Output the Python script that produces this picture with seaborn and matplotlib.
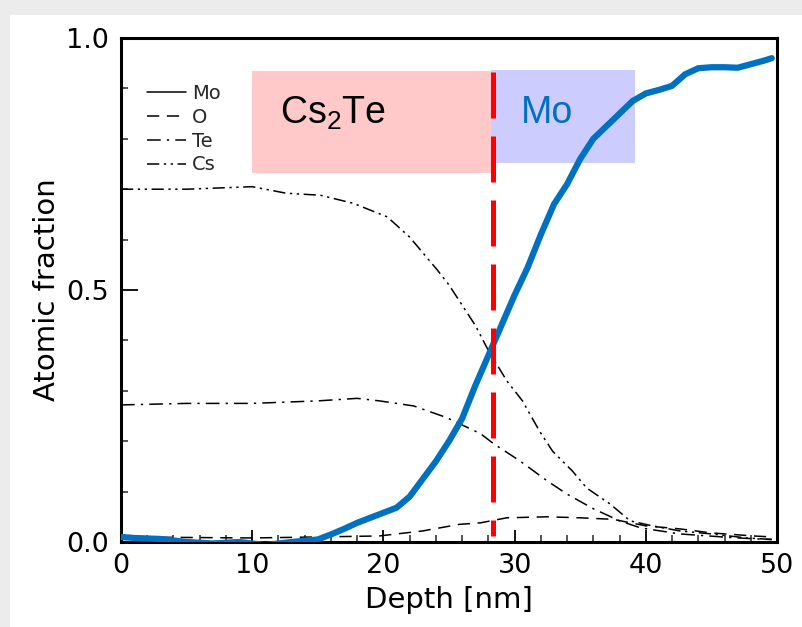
import matplotlib
matplotlib.use("Agg")
import matplotlib.pyplot as plt
from matplotlib import font_manager
from matplotlib.lines import Line2D
from matplotlib.patches import Rectangle
from matplotlib.ticker import MultipleLocator, FixedLocator
import numpy as np
import pandas as pd
import seaborn as sns

# ---- depth profile data (depth in nm, atomic fraction) ----
mo_depth = [0, 1, 3, 5, 7, 9, 11, 13, 15, 16, 17, 18, 19, 20, 21, 22, 23, 24, 25,
            26, 27, 28, 29, 30, 31, 32, 33, 34, 35, 36, 37, 38, 39, 40, 41, 42,
            43, 44, 45, 46, 47, 48, 49, 49.6]
mo_frac = [0.010, 0.008, 0.006, 0.000, -0.003, 0.000, -0.006, 0.000, 0.005, 0.015,
           0.026, 0.038, 0.048, 0.058, 0.068, 0.090, 0.125, 0.160, 0.200, 0.245,
           0.310, 0.370, 0.430, 0.490, 0.545, 0.610, 0.670, 0.710, 0.760, 0.800,
           0.825, 0.850, 0.875, 0.890, 0.897, 0.905, 0.928, 0.940, 0.942, 0.942,
           0.941, 0.948, 0.955, 0.960]

o_depth = [0, 5, 10, 15, 19.7, 23, 25.8, 27.4, 29.4, 32.5, 35, 37.5, 40, 42.6, 45, 48.2, 49.6]
o_frac = [0.010, 0.009, 0.008, 0.010, 0.012, 0.022, 0.035, 0.038, 0.048, 0.050,
          0.048, 0.045, 0.032, 0.026, 0.018, 0.012, 0.010]

te_depth = [0, 5, 10, 15, 18, 19.7, 22.3, 24.8, 27.4, 28.4, 30.4, 32.5, 34, 36,
            38, 39.6, 42.6, 46.4, 48.5, 49.6]
te_frac = [0.272, 0.275, 0.275, 0.280, 0.285, 0.280, 0.270, 0.247, 0.215, 0.195,
           0.161, 0.121, 0.095, 0.066, 0.042, 0.028, 0.016, 0.009, 0.006, 0.005]

cs_depth = [0, 5, 10, 12.6, 15.2, 17.7, 20.3, 22, 24.1, 25, 26, 27, 28, 29.4, 30.6,
            31.9, 32.9, 34.4, 35.5, 37.3, 38.8, 40.5, 42.6, 45, 47.7, 49.6]
cs_frac = [0.700, 0.700, 0.705, 0.692, 0.688, 0.672, 0.645, 0.605, 0.540, 0.510,
           0.470, 0.430, 0.380, 0.320, 0.280, 0.220, 0.180, 0.141, 0.107, 0.075,
           0.042, 0.032, 0.022, 0.016, 0.008, 0.005]

elements = ["Mo", "O", "Te", "Cs"]
x_ticks = [0, 10, 20, 30, 40, 50]
y_ticks = [0.0, 0.5, 1.0]
x_tick_labels = ["0", "10", "20", "30", "40", "50"]
y_tick_labels = ["0.0", "0.5", "1.0"]

interface_depth = 28.35
cs2te_span = (10.0, 28.2, 0.732, 0.934)
mo_span = (28.2, 39.2, 0.751, 0.936)

profile = pd.concat([
    pd.DataFrame({"depth": mo_depth, "frac": mo_frac, "element": "Mo"}),
    pd.DataFrame({"depth": o_depth, "frac": o_frac, "element": "O"}),
    pd.DataFrame({"depth": te_depth, "frac": te_frac, "element": "Te"}),
    pd.DataFrame({"depth": cs_depth, "frac": cs_frac, "element": "Cs"}),
], ignore_index=True)

sns.set_theme(style="white")
plt.rcParams["font.family"] = ["DejaVu Sans"]

available = {f.name for f in font_manager.fontManager.ttflist}
if "Liberation Sans Narrow" in available:
    tick_font = dict(family="Liberation Sans Narrow", size=21.5)
elif "DejaVu Sans Condensed" in available:
    tick_font = dict(family="DejaVu Sans Condensed", size=20)
else:
    tick_font = dict(family="DejaVu Sans", size=19.5)

plt.rcParams["mathtext.fontset"] = "custom"
plt.rcParams["mathtext.rm"] = "Liberation Sans"

fig = plt.figure(figsize=(8.02, 6.27), dpi=100)
fig.patch.set_facecolor("white")
# light grey slide edges
fig.patches.append(Rectangle((0, 0), 10 / 802, 1, transform=fig.transFigure,
                             facecolor="#ececec", edgecolor="none", zorder=0))
fig.patches.append(Rectangle((0, 1 - 15 / 627), 1, 15 / 627, transform=fig.transFigure,
                             facecolor="#ececec", edgecolor="none", zorder=0))

ax = fig.add_axes([121 / 802, 1 - 542 / 627, (777 - 121) / 802, (542 - 38) / 627])

dash_map = {"Mo": "", "O": (8, 5), "Te": (9, 4, 1.5, 4), "Cs": (8, 3, 1.5, 3, 1.5, 3)}
sns.lineplot(data=profile, x="depth", y="frac", style="element", style_order=elements,
             dashes=dash_map, color="black", linewidth=1.1, estimator=None,
             legend=False, ax=ax, zorder=2)

# highlighted Mo profile
sns.lineplot(x=mo_depth, y=mo_frac, color="#0070c0", linewidth=4.5, estimator=None,
             ax=ax, zorder=3, solid_capstyle="round")

ax.set_xlim(0, 50)
ax.set_ylim(0, 1.0)

# region boxes
ax.add_patch(Rectangle((cs2te_span[0], cs2te_span[2]), cs2te_span[1] - cs2te_span[0],
                       cs2te_span[3] - cs2te_span[2], facecolor="#ffc9c9",
                       edgecolor="none", zorder=1))
ax.add_patch(Rectangle((mo_span[0], mo_span[2]), mo_span[1] - mo_span[0],
                       mo_span[3] - mo_span[2], facecolor="#ccccff",
                       edgecolor="none", zorder=1))

# interface marker
iface, = ax.plot([interface_depth, interface_depth], [0.932, 0.012], color="#ff0000",
                 linewidth=3.6, zorder=4, solid_capstyle="butt")
iface.set_dashes((9.2, 3.6))
iface.set_dash_capstyle("butt")

ax.text(12.1, 0.83, r"Cs$_\mathregular{2}$Te", fontfamily="Liberation Sans",
        fontsize=27, color="black", ha="left", va="baseline", zorder=5)
ax.text(30.5, 0.831, "Mo", fontfamily="Liberation Sans", fontsize=27,
        color="#0070c0", ha="left", va="baseline", zorder=5)

# legend
handles = [Line2D([], [], color="black", linewidth=1.1,
                  linestyle="-" if dash_map[e] == "" else (0, dash_map[e]))
           for e in elements]
leg = ax.legend(handles, elements, loc="upper left", bbox_to_anchor=(0.04, 0.909),
                frameon=False, fontsize=14, handlelength=2.0, handletextpad=0.3,
                labelspacing=0.25, borderpad=0, borderaxespad=0)

# frame and ticks
for side in ["left", "right", "top", "bottom"]:
    ax.spines[side].set_visible(True)
    ax.spines[side].set_linewidth(2.2)
    ax.spines[side].set_color("black")

ax.xaxis.set_major_locator(FixedLocator(x_ticks))
ax.xaxis.set_minor_locator(MultipleLocator(2))
ax.yaxis.set_major_locator(FixedLocator(y_ticks))
ax.yaxis.set_minor_locator(MultipleLocator(0.1))
ax.set_xticklabels(x_tick_labels, **tick_font)
ax.set_yticklabels(y_tick_labels, **tick_font)
ax.tick_params(axis="x", which="major", direction="in", length=9, width=1.3,
               pad=8, colors="black", bottom=True)
ax.tick_params(axis="x", which="minor", direction="in", length=5, width=1.1, bottom=True)
ax.tick_params(axis="y", which="major", direction="in", length=12, width=1.3,
               pad=9, colors="black", left=True)
ax.tick_params(axis="y", which="minor", direction="in", length=5, width=1.1, left=True)

ax.set_xlabel("Depth [nm]", fontsize=21, color="black", labelpad=5)
ax.set_ylabel("Atomic fraction", fontsize=21, color="black", labelpad=3)

fig.savefig("out.png", dpi=100, facecolor="white")
